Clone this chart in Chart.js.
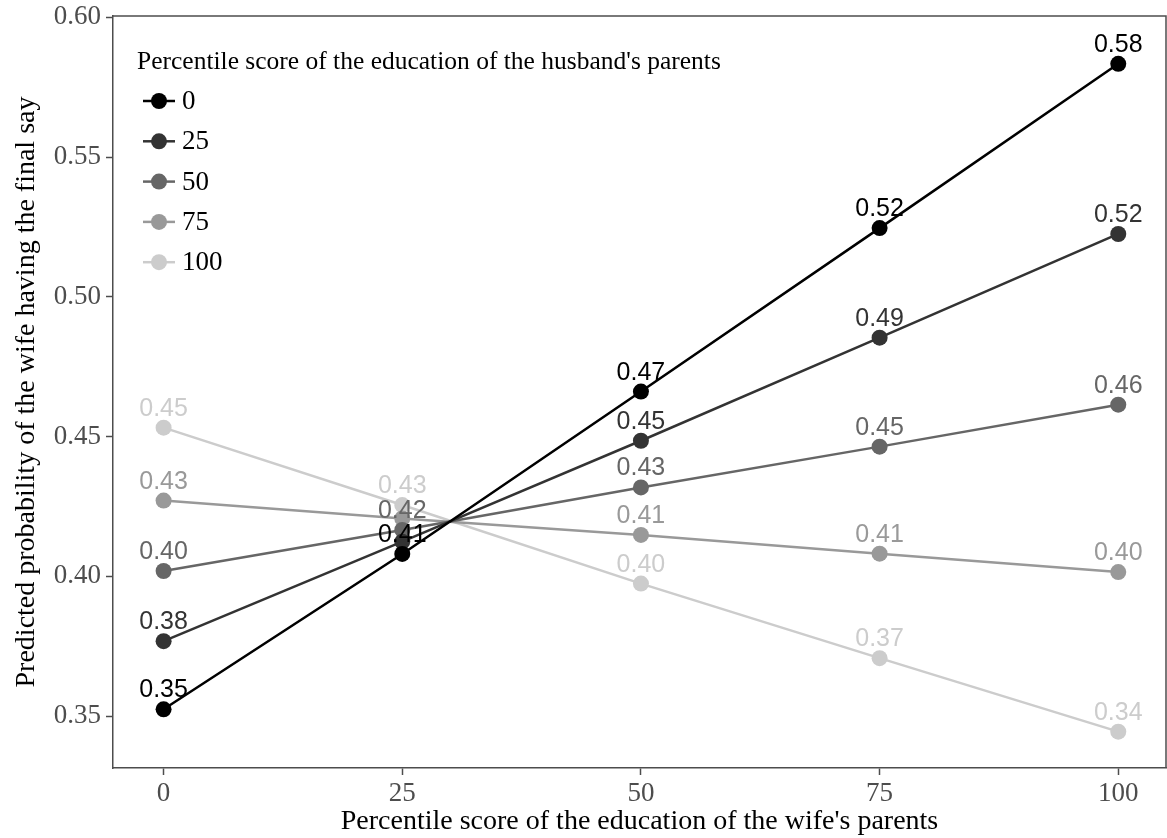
<!DOCTYPE html>
<html>
<head>
<meta charset="utf-8">
<script src="https://cdn.jsdelivr.net/npm/chart.js@4.4.1/dist/chart.umd.min.js"></script>
<style>
  html, body { margin: 0; padding: 0; background: #fff; }
</style>
</head>
<body>
<canvas id="myChart" width="1167" height="838"></canvas>
<script>
// x categories: percentile score of wife's parents
const wifeScores = [0, 25, 50, 75, 100];
// one series per percentile score of husband's parents
const husbandGroups = ['0', '25', '50', '75', '100'];
const husband0 = [0.3524, 0.408, 0.4661, 0.5246, 0.5834];
const husband25 = [0.3768, 0.4124, 0.4485, 0.4854, 0.5225];
const husband50 = [0.4019, 0.4166, 0.4318, 0.4464, 0.4614];
const husband75 = [0.4271, 0.4207, 0.4148, 0.4081, 0.4015];
const husband100 = [0.4532, 0.4255, 0.3974, 0.3707, 0.3444];
const xTicks = [0, 25, 50, 75, 100];
const yTicks = [0.35, 0.40, 0.45, 0.50, 0.55, 0.60];

const greys = ['#000000', '#333333', '#666666', '#999999', '#cccccc'];
const serif = "'Liberation Serif', 'Times New Roman', serif";
const sans = "'Liberation Sans', Arial, sans-serif";
const axisGrey = '#4d4d4d';

const seriesValues = [husband0, husband25, husband50, husband75, husband100];

const datasets = seriesValues.map((vals, i) => ({
    label: husbandGroups[i],
    data: wifeScores.map((x, j) => ({ x: x, y: vals[j] })),
    borderColor: greys[i],
    backgroundColor: greys[i],
    borderWidth: 2.5,
    pointRadius: 8,
    pointBorderWidth: 0,
    tension: 0
}))

// top and right edges of the panel border
const panelBorder = {
    id: 'panelBorder',
    beforeDatasetsDraw(chart) {
        const { ctx, chartArea } = chart
        ctx.save()
        ctx.strokeStyle = axisGrey
        ctx.lineWidth = 1.5
        ctx.beginPath()
        ctx.moveTo(chartArea.left, chartArea.top)
        ctx.lineTo(chartArea.right, chartArea.top)
        ctx.lineTo(chartArea.right, chartArea.bottom)
        ctx.stroke()
        ctx.restore()
    }
}

// value labels above every point, skipping ones that overlap an earlier label
const valueLabels = {
    id: 'valueLabels',
    afterDatasetsDraw(chart) {
        const { ctx } = chart
        const drawn = []
        ctx.save()
        ctx.font = '25px ' + sans
        ctx.textAlign = 'center'
        ctx.textBaseline = 'alphabetic'
        chart.data.datasets.forEach((ds, i) => {
            const meta = chart.getDatasetMeta(i)
            ctx.fillStyle = greys[i]
            meta.data.forEach((pt, j) => {
                const txt = ds.data[j].y.toFixed(2)
                const w = ctx.measureText(txt).width
                const box = { l: pt.x - w / 2, r: pt.x + w / 2, t: pt.y - 12 - 19, b: pt.y - 12 }
                const hit = drawn.some(d => box.l < d.r && box.r > d.l && box.t < d.b && box.b > d.t)
                if (hit) return
                drawn.push(box)
                ctx.fillText(txt, pt.x, pt.y - 12)
            })
        })
        ctx.restore()
    }
}

// legend inside the panel, top left
const insideLegend = {
    id: 'insideLegend',
    afterDraw(chart) {
        const { ctx } = chart
        ctx.save()
        ctx.fillStyle = '#000'
        ctx.font = '25.5px ' + serif
        ctx.textAlign = 'left'
        ctx.textBaseline = 'alphabetic'
        ctx.fillText("Percentile score of the education of the husband's parents", 137, 69)
        chart.data.datasets.forEach((ds, i) => {
            const y = 101 + i * 40.3
            ctx.strokeStyle = ds.borderColor
            ctx.lineWidth = 2.5
            ctx.beginPath()
            ctx.moveTo(143, y)
            ctx.lineTo(175, y)
            ctx.stroke()
            ctx.fillStyle = ds.backgroundColor
            ctx.beginPath()
            ctx.arc(159, y, 8, 0, Math.PI * 2)
            ctx.fill()
            ctx.fillStyle = '#000'
            ctx.font = '27px ' + serif
            ctx.textBaseline = 'middle'
            ctx.fillText(ds.label, 182, y + 1)
            ctx.textBaseline = 'alphabetic'
        })
        ctx.restore()
    }
}

const ctx = document.getElementById('myChart').getContext('2d')

const myChart = new Chart(ctx, {
    type: 'line',
    data: { datasets: datasets },
    options: {
        responsive: false,
        animation: false,
        devicePixelRatio: 1,
        layout: { autoPadding: false, padding: { top: 16, right: 1, left: 0, bottom: 0 } },
        plugins: {
            legend: { display: false },
            tooltip: { enabled: false }
        },
        scales: {
            x: {
                type: 'linear',
                min: -5.3,
                max: 105,
                afterBuildTicks: (s) => { s.ticks = xTicks.map(v => ({ value: v })) },
                afterFit: (s) => {
                    s.height = 70
                    s.paddingLeft = 0
                    s.paddingRight = 0
                },
                ticks: {
                    autoSkip: false,
                    maxRotation: 0,
                    color: axisGrey,
                    padding: 3,
                    font: { family: serif, size: 27 },
                    callback: (v) => String(v)
                },
                grid: { drawOnChartArea: false, tickLength: 7, color: axisGrey, tickWidth: 1.5 },
                border: { color: axisGrey, width: 1.5 },
                title: {
                    display: true,
                    text: "Percentile score of the education of the wife's parents",
                    color: '#000',
                    font: { family: serif, size: 28 },
                    padding: { top: 1, bottom: 0 }
                }
            },
            y: {
                min: 0.3314,
                max: 0.6005,
                afterBuildTicks: (s) => { s.ticks = yTicks.map(v => ({ value: v })) },
                afterFit: (s) => {
                    s.width = 113
                    s.paddingTop = 0
                    s.paddingBottom = 0
                },
                ticks: {
                    autoSkip: false,
                    color: axisGrey,
                    padding: 5,
                    font: { family: serif, size: 27 },
                    callback: (v) => v.toFixed(2)
                },
                grid: { drawOnChartArea: false, tickLength: 7, color: axisGrey, tickWidth: 1.5 },
                border: { color: axisGrey, width: 1.5 },
                title: {
                    display: true,
                    text: 'Predicted probability of the wife having the final say',
                    color: '#000',
                    font: { family: serif, size: 28 },
                    padding: { top: 10, bottom: 0 }
                }
            }
        }
    },
    plugins: [panelBorder, valueLabels, insideLegend]
})
</script>
</body>
</html>
